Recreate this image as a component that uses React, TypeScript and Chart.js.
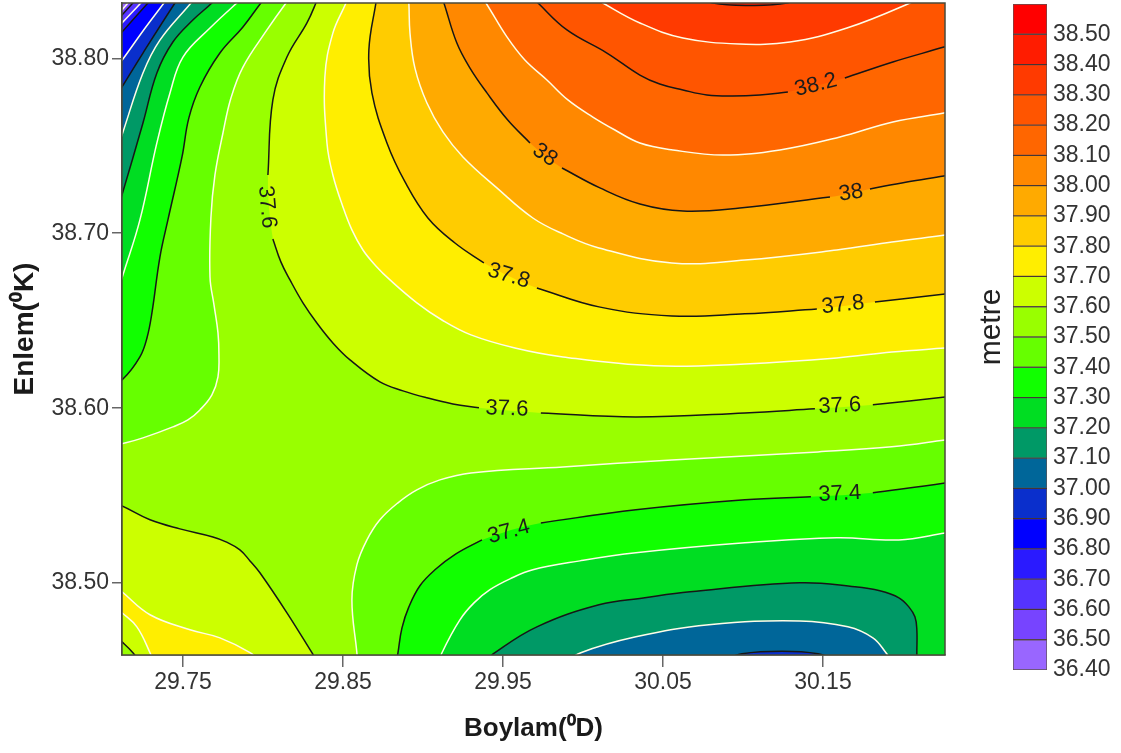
import React, { useEffect, useRef } from "react";
import { Chart, registerables } from "chart.js";

Chart.register(...registerables);

type Pt = [number, number] | null;

// --- axis values ---
const lonTicks = [29.75, 29.85, 29.95, 30.05, 30.15];
const latTicks = [38.5, 38.6, 38.7, 38.8];
const lonMin = 29.7119;
const lonMax = 30.2263;
const latMin = 38.4589;
const latMax = 38.8316;

// --- colour scale ---
const bandLows = [36.4, 36.5, 36.6, 36.7, 36.8, 36.9, 37.0, 37.1, 37.2, 37.3, 37.4, 37.5, 37.6, 37.7, 37.8, 37.9, 38.0, 38.1, 38.2, 38.3, 38.4, 38.5];
const bandColors = ["#9966ff", "#7744ff", "#5533ff", "#2a1aff", "#0000ff", "#0a2fcc", "#006699", "#009966", "#00dd22", "#11ff00", "#66ff00", "#99ff00", "#ccff00", "#ffee00", "#ffcc00", "#ffaa00", "#ff8800", "#ff6600", "#ff5500", "#ff3a00", "#ff1c00", "#ff0000"];

// --- contour lines: [longitude, latitude], null = gap for a label ---
const c365: Pt[] = [[29.7212, 38.8379], [29.7156, 38.8316], [29.7119, 38.8276], [29.7062, 38.8213]];
const c366: Pt[] = [[29.725, 38.8379], [29.7187, 38.8316], [29.7119, 38.8247], [29.7056, 38.8184]];
const c367: Pt[] = [[29.73, 38.8379], [29.7237, 38.8316], [29.7119, 38.8202], [29.7056, 38.8139]];
const c368: Pt[] = [[29.7344, 38.8379], [29.7281, 38.8316], [29.7119, 38.815], [29.7056, 38.8087]];
const c369: Pt[] = [[29.7431, 38.8379], [29.7381, 38.8316], [29.725, 38.8156], [29.7125, 38.7996], [29.7062, 38.7921]];
const c370a: Pt[] = [[29.75, 38.8379], [29.745, 38.8316], [29.725, 38.803], [29.7119, 38.7836], [29.7044, 38.7722]];
const c371a: Pt[] = [[29.7606, 38.8379], [29.755, 38.8316], [29.7356, 38.8104], [29.725, 38.7916], [29.7125, 38.7579], [29.7056, 38.739]];
const c372a: Pt[] = [[29.7744, 38.8379], [29.7681, 38.8316], [29.7562, 38.8219], [29.7437, 38.8093], [29.7337, 38.7916], [29.725, 38.763], [29.7119, 38.7219], [29.7056, 38.703]];
const c373a: Pt[] = [[29.7919, 38.8379], [29.7837, 38.8316], [29.7669, 38.8173], [29.75, 38.8007], [29.7419, 38.7802], [29.7337, 38.7516], [29.7231, 38.7076], [29.7125, 38.6762], [29.7056, 38.6562]];
const c374a: Pt[] = [[29.8044, 38.8379], [29.7987, 38.8316], [29.7875, 38.8179], [29.7731, 38.803], [29.7606, 38.7836], [29.7537, 38.7659], [29.7494, 38.7436], [29.7406, 38.7076], [29.7356, 38.6864], [29.7306, 38.6544], [29.7275, 38.6401], [29.7231, 38.6293], [29.7125, 38.6167], [29.7012, 38.6104]];
const c375a: Pt[] = [[29.82, 38.8379], [29.8144, 38.8316], [29.8025, 38.8162], [29.7875, 38.795], [29.78, 38.7773], [29.775, 38.7573], [29.77, 38.7333], [29.7675, 38.7093], [29.7669, 38.675], [29.7694, 38.659], [29.7719, 38.643], [29.7725, 38.6304], [29.7719, 38.6179], [29.7681, 38.6076], [29.7606, 38.599], [29.7531, 38.5933], [29.7437, 38.5893], [29.725, 38.583], [29.7119, 38.5796], [29.7012, 38.5773]];
const c376a: Pt[] = [[29.8356, 38.8379], [29.8331, 38.8316], [29.8275, 38.8202], [29.815, 38.8007], [29.8062, 38.7762], [29.8031, 38.7333], null, [29.8062, 38.6967], [29.8112, 38.6836], [29.8169, 38.6733], [29.825, 38.6602], [29.8337, 38.6487], [29.8437, 38.6373], [29.8544, 38.6276], [29.8731, 38.615], [29.8875, 38.6099], [29.9025, 38.6059], [29.9187, 38.6024], [29.935, 38.6002], null, [29.9737, 38.5973], [30.0331, 38.595], [30.1012, 38.5973], [30.145, 38.5996], null, [30.1812, 38.6019], [30.2269, 38.6064], [30.2356, 38.6076]];
const c377a: Pt[] = [[29.8544, 38.8379], [29.8519, 38.8316], [29.8437, 38.8144], [29.8387, 38.7893], [29.84, 38.7516], [29.8437, 38.7333], [29.85, 38.715], [29.8556, 38.7019], [29.8625, 38.6904], [29.8706, 38.6813], [29.8794, 38.6733], [29.8962, 38.6602], [29.9119, 38.6504], [29.93, 38.6419], [29.9575, 38.6344], [29.9875, 38.6293], [30.0444, 38.6242], [30.1012, 38.6253], [30.1587, 38.6287], [30.1931, 38.6321], [30.2269, 38.6344], [30.2356, 38.635]];
const c378: Pt[] = [[29.8719, 38.8379], [29.8706, 38.8316], [29.8662, 38.8047], [29.8681, 38.7802], [29.8775, 38.7516], [29.8888, 38.7293], [29.9031, 38.7087], [29.92, 38.6944], [29.9381, 38.683], null, [29.9712, 38.6687], [30.01, 38.6579], [30.0556, 38.6527], [30.1012, 38.6539], [30.1462, 38.6567], null, [30.1825, 38.6607], [30.2269, 38.6653], [30.2356, 38.6664]];
const c379: Pt[] = [[29.8906, 38.8379], [29.8912, 38.8316], [29.8919, 38.8144], [29.895, 38.7944], [29.9025, 38.7744], [29.9125, 38.7579], [29.925, 38.7436], [29.9462, 38.7259], [29.9687, 38.7087], [29.9875, 38.6996], [30.01, 38.6916], [30.0556, 38.683], [30.1012, 38.6847], [30.1587, 38.6904], [30.1931, 38.695], [30.2269, 38.699], [30.2356, 38.7002]];
const c380: Pt[] = [[29.9106, 38.8379], [29.9131, 38.8316], [29.9212, 38.8087], [29.9294, 38.7944], [29.94, 38.7802], [29.953, 38.7647], [29.9669, 38.7516], null, [29.9869, 38.7373], [30.0106, 38.7259], [30.0356, 38.7167], [30.0625, 38.7127], [30.0981, 38.7144], [30.1544, 38.7207], null, [30.1794, 38.7253], [30.2025, 38.7293], [30.2256, 38.7327], [30.2356, 38.7344]];
const c381: Pt[] = [[29.9344, 38.8379], [29.9394, 38.8316], [29.9525, 38.8122], [29.9637, 38.799], [29.9775, 38.7876], [29.9906, 38.7762], [30.0062, 38.7664], [30.02, 38.759], [30.0356, 38.7516], [30.0562, 38.7476], [30.0875, 38.7447], [30.1231, 38.7476], [30.1606, 38.755], [30.1937, 38.7636], [30.2256, 38.7687], [30.2356, 38.7704]];
const c382: Pt[] = [[29.965, 38.8379], [29.9719, 38.8316], [29.99, 38.8162], [30.015, 38.803], [30.0356, 38.7904], [30.048, 38.7853], [30.0625, 38.7819], [30.0775, 38.779], [30.0937, 38.7784], [30.1106, 38.779], [30.1281, 38.7807], null, [30.1637, 38.7887], [30.1937, 38.7979], [30.2256, 38.8064], [30.2356, 38.8093]];
const c383: Pt[] = [[30.0012, 38.8379], [30.0125, 38.8316], [30.0356, 38.8202], [30.0625, 38.8116], [30.0981, 38.8082], [30.1294, 38.8093], [30.165, 38.8173], [30.2044, 38.8316], [30.2169, 38.8379]];
const c384: Pt[] = [[30.07, 38.8362], [30.0812, 38.8316], [30.1044, 38.8302], [30.1275, 38.8316], [30.1387, 38.8362]];
const c376b: Pt[] = [[29.7012, 38.5476], [29.7119, 38.5441], [29.7294, 38.5362], [29.7481, 38.531], [29.7687, 38.5264], [29.7769, 38.5236], [29.7856, 38.519], [29.7919, 38.5127], [29.7981, 38.5059], [29.815, 38.483], [29.8306, 38.4602], [29.8356, 38.4527]];
const c377b: Pt[] = [[29.7012, 38.503], [29.7119, 38.495], [29.7294, 38.4819], [29.7544, 38.4733], [29.7731, 38.4687], [29.7919, 38.4602], [29.8012, 38.4527]];
const c377c: Pt[] = [[29.7044, 38.4887], [29.7119, 38.483], [29.7212, 38.475], [29.7294, 38.4602], [29.7325, 38.4527]];
const c376c: Pt[] = [[29.7044, 38.4722], [29.7119, 38.4664], [29.7187, 38.4602], [29.7244, 38.4527]];
const c375b: Pt[] = [[29.8594, 38.4527], [29.8587, 38.4602], [29.8556, 38.4905], [29.8587, 38.5104], [29.865, 38.5247], [29.8731, 38.5362], [29.8844, 38.5459], [29.8962, 38.5533], [29.9106, 38.559], [29.93, 38.563], [29.9875, 38.5664], [30.0556, 38.5704], [30.1469, 38.575], [30.1931, 38.5779], [30.2269, 38.5819], [30.2356, 38.583]];
const c374b: Pt[] = [[29.8831, 38.4527], [29.8844, 38.4602], [29.8869, 38.4744], [29.8912, 38.4864], [29.8981, 38.4985], [29.9075, 38.5076], [29.9206, 38.5167], [29.9369, 38.5247], null, [29.9737, 38.5344], [30.0331, 38.5419], [30.1012, 38.5476], [30.1425, 38.5493], null, [30.1812, 38.5516], [30.2269, 38.5573], [30.2356, 38.559]];
const c373b: Pt[] = [[29.9094, 38.4527], [29.9119, 38.4602], [29.9231, 38.479], [29.9319, 38.4887], [29.9419, 38.4962], [29.9544, 38.5024], [29.9687, 38.5076], [29.9981, 38.5127], [30.0331, 38.5173], [30.1012, 38.523], [30.1587, 38.5259], [30.1975, 38.5247], [30.2269, 38.5287], [30.2356, 38.5299]];
const c372b: Pt[] = [[29.9356, 38.4527], [29.945, 38.4602], [29.9712, 38.475], [30.01, 38.4876], [30.0387, 38.4916], [30.0669, 38.495], [30.1356, 38.5002], [30.17, 38.4979], [30.1856, 38.4956], [30.1975, 38.4916], [30.2037, 38.4864], [30.2075, 38.4807], [30.2087, 38.4733], [30.2087, 38.4602], [30.2087, 38.4527]];
const c371b: Pt[] = [[29.9856, 38.4527], [29.9987, 38.4602], [30.0331, 38.4693], [30.0787, 38.4762], [30.1356, 38.4784], [30.1656, 38.475], [30.1812, 38.4687], [30.1894, 38.4602], [30.195, 38.4527]];
const c370b: Pt[] = [[30.0887, 38.4562], [30.0994, 38.4596], [30.1244, 38.461], [30.1469, 38.4596], [30.1575, 38.4562]];

// corners well outside the map used to close the filled regions
const outNE: Pt = [30.28, 38.87];
const outNW: Pt = [29.66, 38.87];
const outSE: Pt = [30.28, 38.42];
const outSW: Pt = [29.66, 38.42];

// painted in this order: [contour, closing corner, band low value, contour level]
const regions: [Pt[], Pt | null, number, number][] = [
  [c376a, outNE, 37.6, 37.6], [c377a, outNE, 37.7, 37.7], [c378, outNE, 37.8, 37.8], [c379, outNE, 37.9, 37.9],
  [c380, outNE, 38.0, 38.0], [c381, outNE, 38.1, 38.1], [c382, outNE, 38.2, 38.2], [c383, null, 38.3, 38.3], [c384, null, 38.4, 38.4],
  [c376b, outSW, 37.6, 37.6], [c377b, outSW, 37.7, 37.7], [c377c, outSW, 37.6, 37.7], [c376c, outSW, 37.5, 37.6],
  [c375a, outNW, 37.4, 37.5], [c374a, outNW, 37.3, 37.4], [c373a, outNW, 37.2, 37.3], [c372a, outNW, 37.1, 37.2],
  [c371a, outNW, 37.0, 37.1], [c370a, outNW, 36.9, 37.0], [c369, outNW, 36.8, 36.9], [c368, outNW, 36.7, 36.8],
  [c367, outNW, 36.6, 36.7], [c366, outNW, 36.5, 36.6], [c365, outNW, 36.4, 36.5],
  [c375b, outSE, 37.4, 37.5], [c374b, outSE, 37.3, 37.4], [c373b, outSE, 37.2, 37.3], [c372b, null, 37.1, 37.2],
  [c371b, null, 37.0, 37.1], [c370b, null, 36.9, 37.0],
];

// contour labels: text, longitude, latitude, rotation in degrees
const labelTexts = ["37.6", "38", "38.2", "38", "37.8", "37.8", "37.6", "37.6", "37.4", "37.4"];
const labelLons = [29.8025, 29.9762, 30.1456, 30.1675, 29.9537, 30.1625, 29.9525, 30.1606, 29.9537, 30.1606];
const labelLats = [38.715, 38.7447, 38.7847, 38.723, 38.6756, 38.659, 38.5996, 38.6013, 38.5293, 38.551];
const labelAngles = [85, 35, -14, -8, 17, -6, 2, -3, -15, -3];

const FONT = "'Liberation Sans', Arial, sans-serif";
const colorOf = (low: number) => bandColors[bandLows.findIndex((b) => Math.abs(b - low) < 0.001)];
const toXY = (p: Pt) => (p ? { x: p[0], y: p[1] } : { x: null, y: null });
const noPad = (s: any) => { s.paddingTop = 0; s.paddingBottom = 0; s.paddingLeft = 0; s.paddingRight = 0; };

export default function App() {
  const mapRef = useRef<HTMLCanvasElement>(null);
  const barRef = useRef<HTMLCanvasElement>(null);

  useEffect(() => {
    const base = {
      data: [outNW, outNE, outSE, outSW].map(toXY),
      showLine: true, fill: "shape", borderWidth: 0, pointRadius: 0, tension: 0,
      backgroundColor: colorOf(37.5),
    };
    const fills = regions.map(([pts, close, low]) => ({
      data: [...pts.filter((p) => p), ...(close ? [close] : [])].map(toXY),
      showLine: true, fill: "shape", borderWidth: 0, pointRadius: 0, tension: 0.4,
      backgroundColor: colorOf(low),
      borderColor: "transparent",
    }));
    const seen = new Set<Pt[]>();
    const strokes = regions
      .filter(([pts]) => (seen.has(pts) ? false : (seen.add(pts), true)))
      .map(([pts, , , level]) => ({
        data: pts.map(toXY),
        showLine: true, fill: false, borderWidth: 1.5, pointRadius: 0, tension: 0.4, spanGaps: false,
        borderColor: Math.round(level * 10) % 2 === 0 ? "#161616" : "#fffde8",
        backgroundColor: "transparent",
      }));
    const painted = [base, ...fills, ...strokes].reverse();

    const labelsAndFrame = {
      id: "labelsAndFrame",
      afterDatasetsDraw(chart: any) {
        const { ctx, scales, chartArea } = chart;
        ctx.save();
        ctx.font = `22px ${FONT}`;
        ctx.fillStyle = "#1c1c1c";
        ctx.textAlign = "center";
        ctx.textBaseline = "middle";
        labelTexts.forEach((t, i) => {
          ctx.save();
          ctx.translate(scales.x.getPixelForValue(labelLons[i]), scales.y.getPixelForValue(labelLats[i]));
          ctx.rotate((labelAngles[i] * Math.PI) / 180);
          ctx.fillText(t, 0, 0);
          ctx.restore();
        });
        ctx.strokeStyle = "#4a4a3a";
        ctx.lineWidth = 1.5;
        ctx.strokeRect(chartArea.left, chartArea.top, chartArea.right - chartArea.left, chartArea.bottom - chartArea.top);
        ctx.restore();
      },
    };

    const map = new Chart(mapRef.current!, {
      type: "scatter",
      data: { datasets: painted as any },
      plugins: [labelsAndFrame],
      options: {
        responsive: false,
        animation: false,
        events: [],
        layout: { padding: { top: 3, right: 176, left: 0, bottom: 0 } },
        elements: { line: { capBezierPoints: false } },
        plugins: { legend: { display: false }, tooltip: { enabled: false } },
        scales: {
          x: {
            type: "linear", min: lonMin, max: lonMax,
            afterBuildTicks: (s: any) => { s.ticks = lonTicks.map((value) => ({ value })); },
            afterFit: (s: any) => { s.height = 98; noPad(s); },
            ticks: { autoSkip: false, maxRotation: 0, font: { family: FONT, size: 23 }, color: "#333", padding: 2, callback: (v: any) => Number(v).toFixed(2) },
            grid: { drawOnChartArea: false, tickLength: 12, color: "#666", lineWidth: 1.5 },
            border: { color: "#555", width: 1.5 },
            title: { display: true, text: "Boylam(⁰D)", color: "#1a1a1a", font: { family: FONT, size: 26, weight: "bold" }, padding: { top: 0, bottom: 9 } },
          },
          y: {
            type: "linear", min: latMin, max: latMax,
            afterBuildTicks: (s: any) => { s.ticks = latTicks.map((value) => ({ value })); },
            afterFit: (s: any) => { s.width = 122; noPad(s); },
            ticks: { autoSkip: false, font: { family: FONT, size: 23 }, color: "#333", padding: 3, callback: (v: any) => Number(v).toFixed(2) },
            grid: { drawOnChartArea: false, tickLength: 10, color: "#666", lineWidth: 1.5 },
            border: { color: "#555", width: 1.5 },
            title: { display: true, text: "Enlem(⁰K)", color: "#1a1a1a", font: { family: FONT, size: 28, weight: "bold" }, padding: { top: 8, bottom: 0 } },
          },
        },
      } as any,
    });

    const metreTitle = {
      id: "metreTitle",
      afterDraw(chart: any) {
        const { ctx, chartArea } = chart;
        ctx.save();
        ctx.translate(32, (chartArea.top + chartArea.bottom) / 2 - 10);
        ctx.rotate(-Math.PI / 2);
        ctx.font = `30px ${FONT}`;
        ctx.fillStyle = "#222";
        ctx.textAlign = "center";
        ctx.textBaseline = "middle";
        ctx.fillText("metre", 0, 0);
        ctx.restore();
      },
    };

    const bar = new Chart(barRef.current!, {
      type: "bar",
      data: {
        labels: ["metre"],
        datasets: bandLows.map((low, i) => ({
          data: [[low, bandLows[i + 1] ?? 38.6]],
          backgroundColor: bandColors[i],
          borderColor: "rgba(30,10,10,0.7)",
          borderWidth: 1,
          borderSkipped: false,
          barPercentage: 1,
          categoryPercentage: 1,
          grouped: false,
        })) as any,
      },
      plugins: [metreTitle],
      options: {
        responsive: false,
        animation: false,
        events: [],
        layout: { padding: { top: 4, bottom: 83, left: 53, right: 0 } },
        plugins: { legend: { display: false }, tooltip: { enabled: false } },
        scales: {
          x: { display: false },
          y: {
            position: "right", min: 36.4, max: 38.6,
            afterBuildTicks: (s: any) => { s.ticks = bandLows.map((value) => ({ value })); },
            afterFit: (s: any) => { s.width = 74; noPad(s); },
            ticks: { autoSkip: false, font: { family: FONT, size: 23 }, color: "#333", padding: 6, callback: (v: any) => Number(v).toFixed(2) },
            grid: { display: false, drawTicks: false },
            border: { display: false },
          },
        },
      } as any,
    });

    return () => {
      map.destroy();
      bar.destroy();
    };
  }, []);

  const soft = { position: "absolute", top: 0, filter: "blur(0.4px)" } as const;
  return (
    <div style={{ position: "fixed", left: 0, top: 0, width: 1121, height: 753, background: "#fff", overflow: "hidden" }}>
      <canvas ref={mapRef} width={1121} height={753} style={{ ...soft, left: 0 }} />
      <canvas ref={barRef} width={161} height={753} style={{ ...soft, left: 960 }} />
    </div>
  );
}
